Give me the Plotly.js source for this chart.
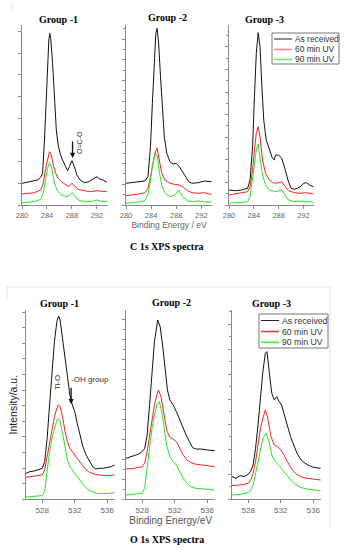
<!DOCTYPE html>
<html>
<head>
<meta charset="utf-8">
<script src="https://cdn.plot.ly/plotly-3.0.1.min.js"></script>
<style>html,body{margin:0;padding:0;background:#fff;}#chart{width:345px;height:550px;}</style>
</head>
<body>
<div id="chart"></div>
<script>
// ---------- DATA (arbitrary intensity units) ----------
const seriesNames = ["As received", "60 min UV", "90 min UV"];
const groupTitles = ["Group -1", "Group -2", "Group -3"];
const c1sTicks = [280, 284, 288, 292];
const o1sTicks = [528, 532, 536];

// C 1s, Group -1
const c1sG1EnergyA = [280,280.5,281,281.5,282,282.5,283,283.3,283.6,283.9,284.1,284.3,284.45,284.6,284.9,285.2,285.5,285.8,286.1,286.5,287,287.3,287.6,288,288.4,288.8,289.3,290,290.7,291.5,292,292.5,293,293.6];
const c1sG1AsReceived = [21.7,22.3,22.7,23.3,24,25,27.7,31.7,65,108,141.7,165,171.7,166.7,141.7,101.7,75,60,51.7,45,38.3,34.3,38.3,44.3,38.3,30,25,22.3,23.3,26.7,28.3,25.7,25,22.7];
const c1sG1EnergyB = [280,281,282,283,283.4,283.8,284.1,284.4,284.7,285,285.4,285.8,286.3,287,287.5,288,288.5,289,290,291,292,293,293.6];
const c1sG1UV60 = [11,11.7,12.3,15,21.7,36.7,46.7,53.3,50,40,31.7,26.7,23.3,20,18.3,21.7,18.3,15.7,14.3,13.3,14.3,13.3,13.3];
const c1sG1UV90 = [2.3,3,3.3,5.7,11.7,26.7,36.7,42.3,38.3,28.3,18.3,13.3,10,8.3,9,12.3,8.3,5,3.3,3.3,5,3.3,3.7];

// C 1s, Group -2
const c1sG2EnergyA = [280,281,282,283,283.5,283.9,284.2,284.45,284.75,284.95,285.2,285.5,285.8,286.1,286.5,287,287.5,288,288.5,289,289.5,290,290.5,291.5,292.5,293.6];
const c1sG2AsReceived = [21.7,22.3,23.3,24,28.3,58.3,101.7,141.7,171.7,176.7,161.7,128.3,91.7,68.3,51.7,43.3,41,41.7,38.3,33.3,28.3,23.3,21.7,22.3,24,23.3];
const c1sG2EnergyB = [280,281,282,283,283.5,283.9,284.3,284.6,284.95,285.3,285.7,286.2,287,287.7,288.5,289,289.8,290.5,291.5,292.5,293.6];
const c1sG2UV60 = [9.3,10,11,12.3,16.7,28.3,41.7,51.7,56.7,45,31.7,25,21.7,20.7,20,18.3,14.3,12.3,11.7,12.3,10.3];
const c1sG2EnergyC = [280,281,282,283,283.5,283.9,284.3,284.7,285,285.3,285.7,286.2,287,287.8,288.4,289,289.8,290.5,291.5,292.5,293.6];
const c1sG2UV90 = [1.7,2.3,3,4.3,10,25,41.7,51.7,48.3,33.3,20,11.7,8.3,10,15,8.3,4.3,3.3,4,3.3,2.7];

// C 1s, Group -3
const c1sG3EnergyA = [280,281,282,283,283.4,283.8,284.1,284.4,284.7,285,285.3,285.6,286,286.5,287,287.3,287.5,288,288.5,289,289.5,290,290.5,291,291.5,292,292.5,293,293.6];
const c1sG3AsReceived = [15,14.3,15,16.7,25,58.3,108.3,151.7,172.3,158.3,118.3,85,65,55,46.7,45,50,50,46.7,36.7,25,16.7,15.7,16.7,18.3,21.7,22.3,20,18.3];
const c1sG3EnergyB = [280,281,282,283,283.4,283.8,284.1,284.4,284.7,285,285.4,285.9,286.5,287.3,288,288.5,289,289.6,290.5,291.5,292.5,293.6];
const c1sG3UV60 = [10,11,11.7,13.3,18.3,35,55,71.7,78.3,68.3,45,31.7,25,21.7,22.3,23.3,19,14.3,12.3,11.7,12.3,11];
const c1sG3EnergyC = [280,281,282,283,283.4,283.8,284.1,284.4,284.7,285,285.4,285.9,286.5,287.5,288,288.5,289,289.6,290.5,291.5,292.5,293.6];
const c1sG3UV90 = [1.7,2,2.3,3.3,8.3,25,41.7,55,61,48.3,30,20,15,13.3,14.3,15,10,5,3.3,4,3.3,3];

// O 1s, Group -1
const o1sG1EnergyA = [526,526.5,527,527.5,528,528.3,528.6,528.9,529.2,529.5,529.8,530,530.2,530.5,530.8,531.1,531.4,531.7,532,532.3,532.7,533,533.4,533.8,534.2,534.6,535,535.5,536,536.5,536.9];
const o1sG1AsReceived = [26,27.7,28.3,29.3,31,37.7,61,94.3,127.7,157.7,177.7,183.3,179.3,161,137.7,119.3,104.3,94.3,87.7,76,62.6,52.7,44.3,37.7,32.7,30.3,31,31,32,32.7,34.3];
const o1sG1EnergyB = [526,527,528,528.3,528.6,528.9,529.2,529.5,529.8,530,530.2,530.5,530.8,531.1,531.4,531.7,532,532.4,532.8,533.2,533.7,534.3,535,535.8,536.9];
const o1sG1UV60 = [22,23,24.3,29.3,42.7,59.3,71,82.7,91,94.3,92.7,82.7,67.7,57.7,51,47.7,44.3,40.3,35,31,27.7,25.3,24.3,23.7,24.3];
const o1sG1UV90 = [2.3,3,3.7,7.7,27.7,47.7,61,71,79.3,81,77.7,66,51,39.3,32.7,29.3,26,21,16,12.7,9.3,7,5.7,5.7,6.7];

// O 1s, Group -2
const o1sG2EnergyA = [526,526.5,527,527.5,528,528.3,528.6,528.9,529.2,529.5,529.9,530.2,530.5,530.8,531.1,531.4,531.8,532.2,532.6,533,533.4,533.8,534.2,534.6,535.2,536,536.9];
const o1sG2AsReceived = [41,42.7,43.7,45,47.7,51,64.3,94.3,127.7,157.7,179.3,172.7,154.3,131,109.3,99.3,94.3,87.7,79.3,71,64.3,57.7,51.7,50.3,50.3,49.3,48.7];
const o1sG2EnergyB = [526,527,528,528.3,528.6,528.9,529.2,529.5,529.8,530,530.3,530.6,531,531.4,531.8,532.2,532.6,533,533.5,534,534.6,535.5,536.9];
const o1sG2UV60 = [30.3,31,32.7,36,47.7,64.3,81,94.3,104.3,109.3,102.7,87.7,69.3,61.7,60.3,57.7,51,45,39.3,36.7,35,34.3,32.7];
const o1sG2EnergyC = [526,527,528,528.3,528.6,528.9,529.2,529.5,529.8,530.1,530.4,530.7,531,531.4,531.8,532.2,532.6,533,533.5,534,534.6,535.5,536.9];
const o1sG2UV90 = [4.3,5,6,11.7,31,54.3,71,84.3,94.3,97.7,87.7,71,54.3,42.7,37.7,34.3,27.7,21.7,16,12.7,11,10.3,9.3];

// O 1s, Group -3
const o1sG3EnergyA = [526,526.5,527,527.5,528,528.3,528.6,528.9,529.2,529.5,529.8,530.1,530.3,530.6,530.9,531.2,531.5,531.8,532.1,532.4,532.8,533.2,533.6,534,534.5,535,535.5,536,536.9];
const o1sG3AsReceived = [22.7,21,23.7,22.7,25,28.3,34.3,51,74.3,101,127.7,146,147.7,126,106,99.3,102.7,97.7,94.3,85.7,74.3,62.7,54.3,46,39.3,36,33.7,32,31];
const o1sG3EnergyB = [526,527,528,528.3,528.6,528.9,529.2,529.5,529.8,530.1,530.4,530.8,531.2,531.6,532,532.4,532.8,533.3,533.8,534.4,535.2,536,536.9];
const o1sG3UV60 = [13.7,14.3,16,19.3,26,37.7,54.3,71,81,89.3,81,62.7,54.3,52.7,49.3,44.3,37.7,31,26,22.7,21,20.3,19.3];
const o1sG3EnergyC = [526,527,528,528.3,528.6,528.9,529.2,529.5,529.8,530.2,530.5,530.9,531.3,531.8,532.2,532.7,533.2,533.8,534.5,535.3,536.9];
const o1sG3UV90 = [4.3,5,6.7,9.3,14.3,26,37.7,51,61,66,59.3,44.3,37.7,33.7,29.3,24.3,19.3,15,11.7,10,8.7];

// ---------- LAYOUT HELPERS ----------
const W = 345, H = 550;
const px = v => v / W;
const py = v => 1 - v / H;
const colors = ["#111111", "#ff1f1f", "#1fea1f"];
const sans = "Liberation Sans, Arial, sans-serif";
const serif = "Liberation Serif, Times New Roman, serif";

const panels = [
  {x: [22, 107.5], y: [25, 205], xr: [280, 293.7], yr: [0, 180], dt: 21.67, minor: null, ticks: c1sTicks, tf: 7.5,
   data: [[c1sG1EnergyA, c1sG1AsReceived], [c1sG1EnergyB, c1sG1UV60], [c1sG1EnergyB, c1sG1UV90]]},
  {x: [126, 212], y: [25, 205], xr: [280, 293.7], yr: [0, 180], dt: 20.75, minor: 10.375, ticks: c1sTicks, tf: 7.5,
   data: [[c1sG2EnergyA, c1sG2AsReceived], [c1sG2EnergyB, c1sG2UV60], [c1sG2EnergyC, c1sG2UV90]]},
  {x: [229, 314], y: [25, 205], xr: [280, 293.7], yr: [0, 180], dt: 22.6, minor: 11.3, ticks: c1sTicks, tf: 7.5,
   data: [[c1sG3EnergyA, c1sG3AsReceived], [c1sG3EnergyB, c1sG3UV60], [c1sG3EnergyC, c1sG3UV90]]},
  {x: [26, 115.4], y: [310, 499.3], xr: [526, 537], yr: [0, 189.3], dt: 15.6, minor: null, ticks: o1sTicks, tf: 8,
   data: [[o1sG1EnergyA, o1sG1AsReceived], [o1sG1EnergyB, o1sG1UV60], [o1sG1EnergyB, o1sG1UV90]]},
  {x: [126, 215.4], y: [310, 499.3], xr: [526, 537], yr: [0, 189.3], dt: 20, minor: 10, ticks: o1sTicks, tf: 8,
   data: [[o1sG2EnergyA, o1sG2AsReceived], [o1sG2EnergyB, o1sG2UV60], [o1sG2EnergyC, o1sG2UV90]]},
  {x: [232, 321.4], y: [310, 499.3], xr: [526, 537], yr: [0, 189.3], dt: 25, minor: 12.5, ticks: o1sTicks, tf: 8,
   data: [[o1sG3EnergyA, o1sG3AsReceived], [o1sG3EnergyB, o1sG3UV60], [o1sG3EnergyC, o1sG3UV90]]}
];

const traces = [];
const layout = {
  width: W, height: H,
  margin: {l: 0, r: 0, t: 0, b: 0},
  paper_bgcolor: "#ffffff", plot_bgcolor: "rgba(0,0,0,0)",
  showlegend: false,
  font: {family: sans},
  annotations: [], shapes: []
};

panels.forEach((p, i) => {
  const n = i + 1;
  const xa = "x" + (n === 1 ? "" : n), ya = "y" + (n === 1 ? "" : n);
  p.data.forEach((d, k) => {
    traces.push({
      type: "scatter", mode: "lines", x: d[0], y: d[1],
      name: seriesNames[k], xaxis: xa, yaxis: ya,
      line: {color: colors[k], width: 1}, hoverinfo: "skip"
    });
  });
  layout["xaxis" + (n === 1 ? "" : n)] = {
    domain: [px(p.x[0]), px(p.x[1])], anchor: ya, range: p.xr,
    showline: true, linecolor: "#8a8a8a", linewidth: 1,
    ticks: "outside", ticklen: 3, tickcolor: "#8a8a8a",
    tickmode: "array", tickvals: p.ticks,
    tickfont: {family: sans, size: p.tf, color: "#666"},
    showgrid: false, zeroline: false, fixedrange: true
  };
  const yax = {
    domain: [py(p.y[1]), py(p.y[0])], anchor: xa, range: p.yr,
    showline: true, linecolor: "#8a8a8a", linewidth: 1,
    ticks: "outside", ticklen: 3, tickcolor: "#8a8a8a",
    tick0: 0, dtick: p.dt, showticklabels: false,
    showgrid: false, zeroline: false, fixedrange: true
  };
  if (p.minor) yax.minor = {dtick: p.minor, tick0: 0, ticks: "outside", ticklen: 2, tickcolor: "#8a8a8a", showgrid: false};
  layout["yaxis" + (n === 1 ? "" : n)] = yax;
});

layout.xaxis2.title = {text: "Binding Energy / eV", font: {family: sans, size: 8.5, color: "#666"}, standoff: 2};
layout.xaxis5.title = {text: "Binding Energy/eV", font: {family: sans, size: 10, color: "#555"}, standoff: 2};
layout.yaxis4.title = {text: "Intensity/a.u.", font: {family: sans, size: 10.5, color: "#222"}, standoff: 2};

// group titles
const titlePos = [[58, 19], [167, 18], [264, 19], [59, 303], [171, 302], [271, 303]];
titlePos.forEach((t, i) => {
  layout.annotations.push({
    xref: "paper", yref: "paper", x: px(t[0]), y: py(t[1]), xanchor: "center", yanchor: "middle",
    text: groupTitles[i % 3], showarrow: false,
    font: {family: serif, size: 10, color: "#000", weight: "bold"}
  });
});
// captions
layout.annotations.push({xref: "paper", yref: "paper", x: px(167), y: py(246), xanchor: "center", yanchor: "middle",
  text: "C 1s XPS spectra", showarrow: false, font: {family: serif, size: 10, color: "#000", weight: "bold"}});
layout.annotations.push({xref: "paper", yref: "paper", x: px(167), y: py(539), xanchor: "center", yanchor: "middle",
  text: "O 1s XPS spectra", showarrow: false, font: {family: serif, size: 10, color: "#000", weight: "bold"}});

// peak labels
layout.annotations.push({xref: "x", yref: "y", x: 288.1, y: 47, ax: 0, ay: -18, showarrow: true,
  arrowhead: 2, arrowsize: 0.8, arrowwidth: 1.3, arrowcolor: "#111", text: ""});
layout.annotations.push({xref: "paper", yref: "paper", x: px(79), y: py(143), xanchor: "center", yanchor: "middle",
  text: "O=C-O", textangle: -90, showarrow: false, font: {family: sans, size: 7, color: "#333"}});
layout.annotations.push({xref: "x4", yref: "y4", x: 531.55, y: 95, ax: 0, ay: -18, showarrow: true,
  arrowhead: 2, arrowsize: 0.8, arrowwidth: 1.3, arrowcolor: "#111", text: ""});
layout.annotations.push({xref: "paper", yref: "paper", x: px(57), y: py(383), xanchor: "center", yanchor: "middle",
  text: "Ti-O", textangle: -90, showarrow: false, font: {family: sans, size: 8, color: "#333"}});
layout.annotations.push({xref: "paper", yref: "paper", x: px(89.5), y: py(379), xanchor: "center", yanchor: "middle",
  text: "-OH group", showarrow: false, font: {family: sans, size: 8, color: "#333"}});

// legends (drawn as boxes with sample lines + labels)
function addLegend(x0, x1, y0, y1, rows, lx0, lx1, fs, legColors) {
  layout.shapes.push({type: "rect", xref: "paper", yref: "paper", x0: px(x0), x1: px(x1), y0: py(y1), y1: py(y0),
    line: {color: "#777", width: 1}, fillcolor: "#fff", layer: "above"});
  rows.forEach((ry, k) => {
    layout.shapes.push({type: "line", xref: "paper", yref: "paper", x0: px(lx0), x1: px(lx1), y0: py(ry), y1: py(ry),
      line: {color: legColors[k], width: k === 0 ? 1 : 1.6}, layer: "above"});
    layout.annotations.push({xref: "paper", yref: "paper", x: px(lx1 + 1), y: py(ry), xanchor: "left", yanchor: "middle",
      text: seriesNames[k], showarrow: false, font: {family: sans, size: fs, color: "#333"}});
  });
}
addLegend(272, 339, 33, 64, [39, 49.5, 59.5], 274, 292, 8.4, ["#222", "#ff8c8c", "#6cf26c"]);
addLegend(259, 328, 314, 348, [320.5, 331.5, 342.3], 261, 279, 8.7, ["#222", "#ff3b3b", "#3cf03c"]);

// faint frame lines of the original figure
const faint = {color: "#e4e4e4", width: 1};
layout.shapes.push({type: "line", xref: "paper", yref: "paper", x0: px(12), x1: px(12), y0: py(10), y1: py(2), line: faint});
layout.shapes.push({type: "line", xref: "paper", yref: "paper", x0: px(7), x1: px(330), y0: py(287), y1: py(287), line: faint});
layout.shapes.push({type: "line", xref: "paper", yref: "paper", x0: px(330), x1: px(330), y0: py(527), y1: py(287), line: faint});
layout.shapes.push({type: "line", xref: "paper", yref: "paper", x0: px(7), x1: px(7), y0: py(300), y1: py(287), line: faint});

Plotly.newPlot("chart", traces, layout, {staticPlot: true, displayModeBar: false});
</script>
</body>
</html>
